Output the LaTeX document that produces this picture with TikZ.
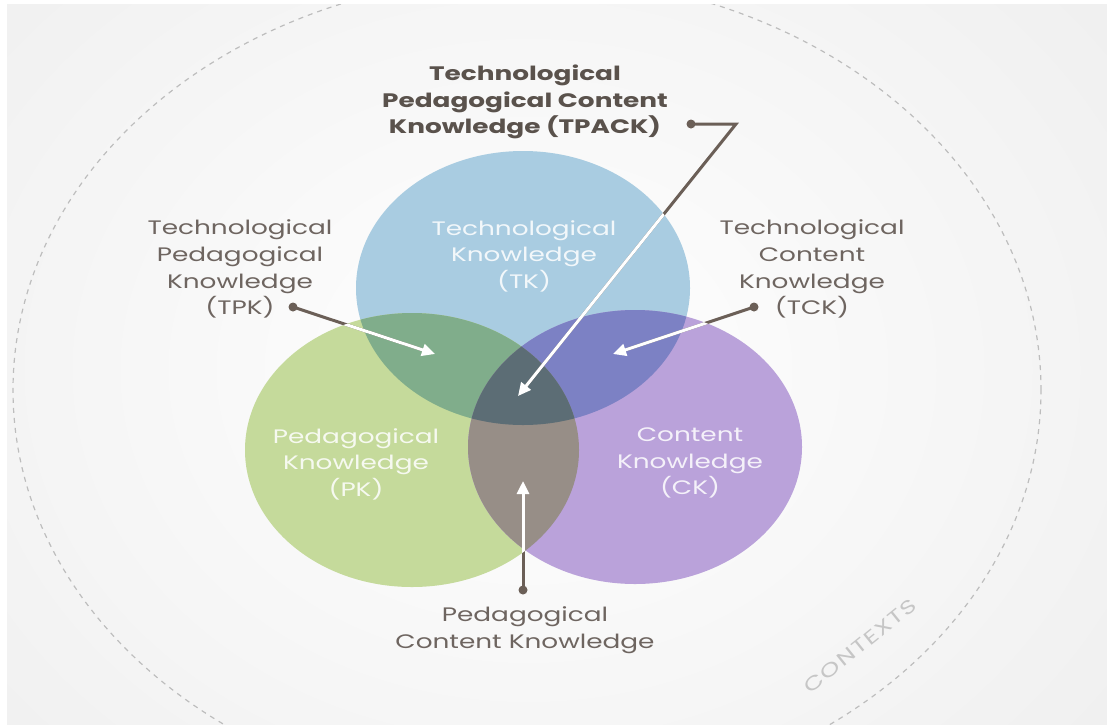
\documentclass[tikz,border=0pt]{standalone}
\usepackage{fontspec}
\setmainfont{Poppins}[FakeStretch=1.35]
\usetikzlibrary{arrows.meta}
\definecolor{bggray}{HTML}{EBEBEB}
\definecolor{tkc}{HTML}{A9CCE1}
\definecolor{pkc}{HTML}{C5DA9B}
\definecolor{ckc}{HTML}{BAA2DA}
\definecolor{tpc}{HTML}{80AD8B}
\definecolor{tcc}{HTML}{7C81C4}
\definecolor{pcc}{HTML}{978E87}
\definecolor{tpcc}{HTML}{5C6D75}
\definecolor{labc}{HTML}{6E6560}
\definecolor{boldc}{HTML}{5A524C}
\definecolor{connc}{HTML}{6B5F57}
\definecolor{dashc}{HTML}{BDBDBD}
\definecolor{ctxc}{HTML}{C6C6C6}
\begin{document}
\begin{tikzpicture}[x=1pt,y=-1pt,
  lab/.style={align=center,text=labc,font=\fontsize{19.5}{26.8}\selectfont},
  blab/.style={align=center,text=boldc,font=\bfseries\fontsize{19.5}{26.5}\selectfont},
  inlab/.style={align=center,text=white,text opacity=0.85,font=\fontsize{19.5}{26.5}\selectfont},
  conn/.style={draw=connc,line width=3pt,line join=miter},
  wconn/.style={draw=white,line width=3pt,-{Triangle[length=13pt,width=12pt]}},
  dotc/.style={fill=connc}]
\useasboundingbox (0,0) rectangle (1107,724);
% background
\fill[white] (0,0) rectangle (1107,724);
\begin{scope}
\clip (7,4) rectangle (1107,724);
\fill[bggray] (7,4) rectangle (1107,724);
\shade[inner color=white,outer color=bggray] (528,370) ellipse [x radius=960pt, y radius=780pt];
% contexts ring
\draw[dashc,line width=1.2pt,dash pattern=on 5pt off 5pt] (527,390) ellipse [x radius=514pt, y radius=414pt];
\end{scope}
\node[text=ctxc,rotate=39,font=\fontsize{19}{19}\selectfont\addfontfeature{LetterSpace=6}] (ctx) at (860,646) {CONTEXTS};
% circles
\coordinate (TK) at (523,288);
\coordinate (PK) at (412,450);
\coordinate (CK) at (635,447);
\fill[tkc] (TK) ellipse [x radius=167pt, y radius=137pt];
\fill[pkc] (PK) ellipse [x radius=167pt, y radius=137pt];
\fill[ckc] (CK) ellipse [x radius=167pt, y radius=137pt];
\begin{scope}
\clip (TK) ellipse [x radius=167pt, y radius=137pt];
\fill[tpc] (PK) ellipse [x radius=167pt, y radius=137pt];
\fill[tcc] (CK) ellipse [x radius=167pt, y radius=137pt];
\end{scope}
\begin{scope}
\clip (PK) ellipse [x radius=167pt, y radius=137pt];
\fill[pcc] (CK) ellipse [x radius=167pt, y radius=137pt];
\clip (TK) ellipse [x radius=167pt, y radius=137pt];
\fill[tpcc] (CK) ellipse [x radius=167pt, y radius=137pt];
\end{scope}
% inner labels
\node[inlab] (tk) at (524,256) {Technological\\Knowledge\\(TK)};
\node[inlab] (pk) at (356,464) {Pedagogical\\Knowledge\\(PK)};
\node[inlab] (ck) at (690,463) {Content\\Knowledge\\(CK)};
% outer labels
\node[blab] (tpack) at (525,102) {Technological\\Pedagogical Content\\Knowledge (TPACK)};
\node[lab] (tpk) at (240,269) {Technological\\Pedagogical\\Knowledge\\(TPK)};
\node[lab] (tck) at (812,269) {Technological\\Content\\Knowledge\\(TCK)};
\node[lab] (pck) at (525,630) {Pedagogical\\Content Knowledge};
% connector points
\coordinate (dTPACK) at (691,124);
\coordinate (cTPACK) at (736,124);
\coordinate (tTPACK) at (518,396);
\coordinate (dTPK) at (293,307);
\coordinate (tTPK) at (435,354);
\coordinate (dTCK) at (754,307);
\coordinate (tTCK) at (613,354);
\coordinate (dPCK) at (523,590);
\coordinate (tPCK) at (523,481);
% brown connectors
\draw[conn,shorten >=12pt] (dTPACK) -- (cTPACK) -- (tTPACK);
\draw[conn,shorten >=12pt] (dTPK) -- (tTPK);
\draw[conn,shorten >=12pt] (dTCK) -- (tTCK);
\draw[conn,shorten >=12pt] (dPCK) -- (tPCK);
\fill[dotc] (dTPACK) circle (4.5pt);
\fill[dotc] (dTPK) circle (4.5pt);
\fill[dotc] (dTCK) circle (4.5pt);
\fill[dotc] (dPCK) circle (4.5pt);
% white parts inside the circles
\begin{scope}
\clip (TK) ellipse [x radius=167pt, y radius=137pt]
      (PK) ellipse [x radius=167pt, y radius=137pt]
      (CK) ellipse [x radius=167pt, y radius=137pt];
\draw[wconn] (cTPACK) -- (tTPACK);
\draw[wconn] (dTPK) -- (tTPK);
\draw[wconn] (dTCK) -- (tTCK);
\draw[wconn] (dPCK) -- (tPCK);
\end{scope}
\end{tikzpicture}
\end{document}
